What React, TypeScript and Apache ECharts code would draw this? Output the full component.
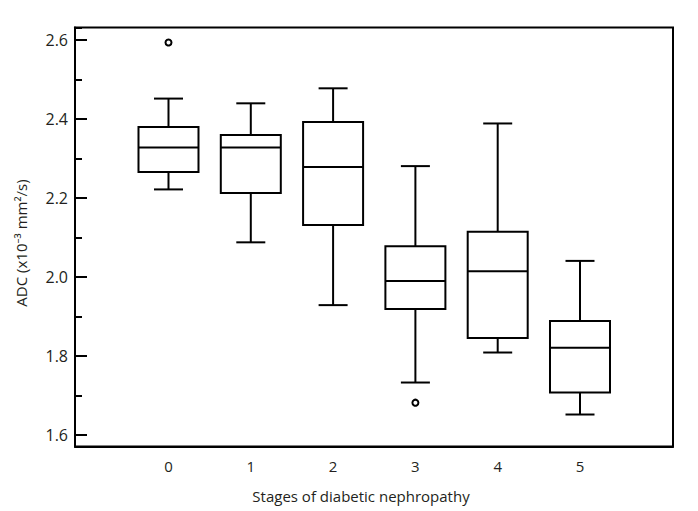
import React, { useEffect, useRef } from 'react';
import * as echarts from 'echarts';

// Stages of diabetic nephropathy (x positions)
const stages = [0, 1, 2, 3, 4, 5];
// ADC box statistics (x10^-3 mm^2/s)
const whiskerLow = [2.222, 2.088, 1.929, 1.733, 1.809, 1.652];
const q1 = [2.266, 2.213, 2.132, 1.919, 1.846, 1.708];
const median = [2.328, 2.328, 2.279, 1.99, 2.015, 1.821];
const q3 = [2.38, 2.36, 2.393, 2.078, 2.115, 1.889];
const whiskerHigh = [2.452, 2.44, 2.478, 2.281, 2.389, 2.041];
// Outliers
const outlierStage = [0, 3];
const outlierValue = [2.594, 1.682];
// Axis labels
const xTickLabels = ['0', '1', '2', '3', '4', '5'];
const xTitle = 'Stages of diabetic nephropathy';
const yTitle = 'ADC (x10⁻³ mm²/s)';

const X_MIN = -1.136;
const X_MAX = 6.13;
const Y_MIN = 1.571;
const Y_MAX = 2.632;

const FONT = '"Open Sans", "Noto Sans", sans-serif';
const INK = '#231f20';

export default function App() {
  const ref = useRef<HTMLDivElement>(null);

  useEffect(() => {
    if (!ref.current) return;
    const chart = echarts.init(ref.current, undefined, { renderer: 'svg' });

    const boxData = stages.map((s, i) => [s, whiskerLow[i], q1[i], median[i], q3[i], whiskerHigh[i]]);
    const outlierData = outlierStage.map((s, i) => [s, outlierValue[i]]);

    const isInt = (v: number) => Math.abs(v - Math.round(v)) < 1e-6;

    chart.setOption({
      animation: false,
      backgroundColor: '#fff',
      textStyle: { fontFamily: FONT },
      grid: {
        left: 75,
        right: 25,
        top: 27.5,
        bottom: 64.5,
        show: true,
        borderColor: '#000',
        borderWidth: 2,
        backgroundColor: 'transparent',
        containLabel: false,
      },
      xAxis: {
        type: 'value',
        min: X_MIN,
        max: X_MAX,
        splitNumber: 7,
        axisLine: { show: true, onZero: false, lineStyle: { color: '#000', width: 2 } },
        axisTick: { show: false },
        splitLine: { show: false },
        axisLabel: {
          show: true,
          showMinLabel: false,
          showMaxLabel: false,
          margin: 12,
          fontSize: 15,
          color: INK,
          fontFamily: FONT,
          formatter: (v: number) => {
            if (!isInt(v)) return '';
            const idx = stages.indexOf(Math.round(v));
            return idx >= 0 ? xTickLabels[idx] : '';
          },
        },
        name: xTitle,
        nameLocation: 'middle',
        nameGap: 42,
        nameTextStyle: { fontSize: 15, color: INK, fontFamily: FONT, padding: [0, 26, 0, 0] },
      },
      yAxis: [
        {
          type: 'value',
          min: Y_MIN,
          max: Y_MAX,
          splitNumber: 10,
          axisLine: { show: true, onZero: false, lineStyle: { color: '#000', width: 2 } },
          axisTick: { show: true, inside: true, length: 7, lineStyle: { color: '#000', width: 2 } },
          axisLabel: { show: false },
          splitLine: { show: false },
        },
        {
          type: 'value',
          position: 'left',
          min: Y_MIN,
          max: Y_MAX,
          splitNumber: 5,
          axisLine: { show: false, onZero: false },
          axisTick: { show: true, inside: true, length: 12, lineStyle: { color: '#000', width: 2 } },
          splitLine: { show: false },
          axisLabel: {
            show: true,
            showMinLabel: false,
            showMaxLabel: false,
            margin: 7,
            fontSize: 16,
            color: INK,
            fontFamily: FONT,
            formatter: (v: number) => v.toFixed(1),
          },
          name: yTitle,
          nameLocation: 'middle',
          nameGap: 47,
          nameRotate: 90,
          nameTextStyle: { fontSize: 15, color: INK, fontFamily: FONT, padding: [0, 12, 0, 0] },
        },
      ],
      series: [
        {
          type: 'custom',
          xAxisIndex: 0,
          yAxisIndex: 0,
          data: boxData,
          encode: { x: 0, y: [1, 2, 3, 4, 5] },
          renderItem: (params: any, api: any) => {
            const x = api.value(0);
            const [cx, yLow] = api.coord([x, api.value(1)]);
            const yQ1 = api.coord([x, api.value(2)])[1];
            const yMed = api.coord([x, api.value(3)])[1];
            const yQ3 = api.coord([x, api.value(4)])[1];
            const yHigh = api.coord([x, api.value(5)])[1];
            const half = 30;
            const cap = 14.5;
            const ls = { stroke: '#000', lineWidth: 2, fill: 'none' };
            return {
              type: 'group',
              children: [
                { type: 'line', shape: { x1: cx, y1: yHigh, x2: cx, y2: yQ3 }, style: ls },
                { type: 'line', shape: { x1: cx - cap, y1: yHigh, x2: cx + cap, y2: yHigh }, style: ls },
                { type: 'line', shape: { x1: cx, y1: yQ1, x2: cx, y2: yLow }, style: ls },
                { type: 'line', shape: { x1: cx - cap, y1: yLow, x2: cx + cap, y2: yLow }, style: ls },
                {
                  type: 'rect',
                  shape: { x: cx - half, y: yQ3, width: half * 2, height: yQ1 - yQ3 },
                  style: { stroke: '#000', lineWidth: 2, fill: '#fff' },
                },
                { type: 'line', shape: { x1: cx - half, y1: yMed, x2: cx + half, y2: yMed }, style: ls },
              ],
            };
          },
        },
        {
          type: 'scatter',
          xAxisIndex: 0,
          yAxisIndex: 0,
          data: outlierData,
          symbol: 'circle',
          symbolSize: 6,
          itemStyle: { color: '#fff', borderColor: '#000', borderWidth: 2, opacity: 1 },
          z: 5,
        },
      ],
    });

    return () => chart.dispose();
  }, []);

  return (
    <div
      ref={ref}
      style={{ position: 'fixed', left: 0, top: 0, width: 698, height: 511, background: '#fff' }}
    />
  );
}
